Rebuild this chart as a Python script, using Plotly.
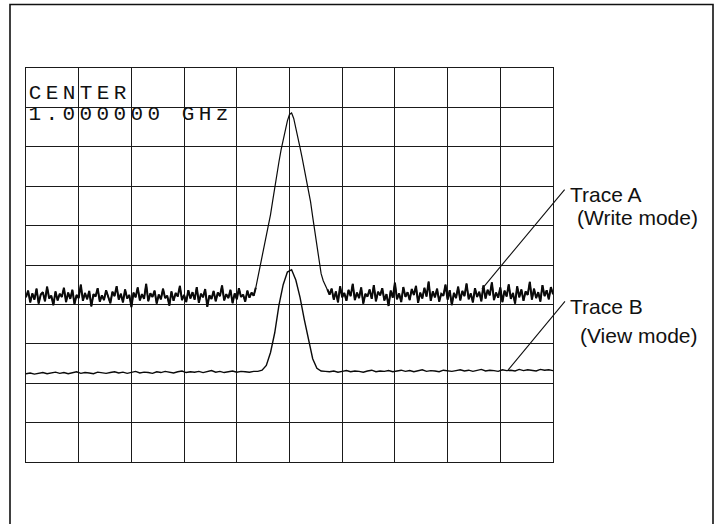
import numpy as np
import plotly.graph_objects as go

# ---- Data (grid divisions: x 0..10 across the span, y 0..10 bottom to top) ----
# Trace A (Write mode): 251 sweep points
trace_a_left_noise = [
    4.18, 4.35, 4.05, 4.28, 4.12, 4.40, 4.02, 4.25, 4.31, 4.08, 4.45, 4.15, 4.22, 3.98, 4.33, 4.10, 4.27, 4.19, 4.42, 4.06,
    4.30, 4.14, 4.37, 4.01, 4.24, 4.16, 4.50, 4.09, 4.29, 4.13, 4.34, 3.95, 4.26, 4.20, 4.41, 4.07, 4.23, 4.11, 4.36, 4.17,
    4.03, 4.32, 4.21, 4.46, 4.12, 4.27, 4.05, 4.38, 4.15, 4.24, 3.93, 4.30, 4.18, 4.43, 4.10, 4.26, 4.14, 4.52, 4.08, 4.28,
    4.19, 4.35, 4.02, 4.25, 4.13, 4.40, 4.16, 4.22, 3.97, 4.33, 4.09, 4.29, 4.20, 4.47, 4.11, 4.24, 4.06, 4.36, 4.15, 4.31,
    4.12, 4.44, 4.04, 4.27, 4.18, 4.39, 3.94, 4.23, 4.14, 4.34, 4.08, 4.30, 4.21, 4.48, 4.10, 4.26, 4.16, 4.37, 4.03, 4.28,
    4.13, 4.41, 4.19, 4.25, 4.07, 4.35, 4.17, 4.30, 4.22,
]
trace_a_peak = [
    4.42, 4.68, 4.95, 5.20, 5.45, 5.70, 5.95, 6.28, 6.62, 6.98, 7.30, 7.62, 7.92, 8.20, 8.45, 8.66, 8.82, 8.86,
    8.72, 8.50, 8.25, 7.98, 7.72, 7.45, 7.20, 6.92, 6.60, 6.22, 5.85, 5.45, 5.05, 4.78, 4.60, 4.48, 4.38,
]
trace_a_right_noise = [
    4.25, 4.40, 4.12, 4.33, 4.05, 4.46, 4.18, 4.29, 4.09, 4.37, 4.21, 4.52, 4.11, 4.30, 4.16, 4.43, 4.02, 4.27, 4.20, 4.38,
    4.14, 4.49, 4.08, 4.32, 4.23, 4.41, 4.10, 4.26, 3.96, 4.35, 4.17, 4.55, 4.13, 4.28, 4.06, 4.44, 4.19, 4.31, 4.11, 4.39,
    4.24, 4.47, 4.04, 4.30, 4.15, 4.42, 4.20, 4.58, 4.09, 4.33, 4.18, 4.40, 4.07, 4.27, 4.22, 4.50, 4.12, 4.36, 3.98, 4.29,
    4.16, 4.45, 4.10, 4.34, 4.21, 4.53, 4.13, 4.28, 4.05, 4.41, 4.19, 4.32, 4.08, 4.48, 4.15, 4.37, 4.23, 4.56, 4.11, 4.30,
    4.17, 4.43, 4.06, 4.35, 4.20, 4.51, 4.14, 4.29, 4.02, 4.46, 4.18, 4.38, 4.09, 4.33, 4.24, 4.57, 4.12, 4.40, 4.16, 4.31,
    4.07, 4.49, 4.21, 4.36, 4.13, 4.44, 4.26,
]
trace_a = trace_a_left_noise + trace_a_peak + trace_a_right_noise

# Trace B (View mode): 126 sweep points
trace_b_left = [
    2.24, 2.26, 2.23, 2.25, 2.27, 2.24, 2.26, 2.28, 2.25, 2.27, 2.24, 2.26, 2.29, 2.25, 2.27, 2.26, 2.24, 2.28, 2.26, 2.25,
    2.27, 2.29, 2.26, 2.28, 2.25, 2.27, 2.30, 2.26, 2.28, 2.27, 2.25, 2.29, 2.27, 2.30, 2.28, 2.26, 2.29, 2.31, 2.27, 2.29,
    2.28, 2.30, 2.27, 2.29, 2.32, 2.28, 2.30, 2.27, 2.29, 2.31, 2.28, 2.30, 2.29, 2.28, 2.30,
]
trace_b_peak = [
    2.30, 2.33, 2.45, 2.78, 3.28, 3.98, 4.50, 4.82, 4.88, 4.62, 4.18, 3.62, 3.10, 2.62, 2.38, 2.31,
]
trace_b_right = [
    2.30, 2.29, 2.31, 2.28, 2.30, 2.32, 2.29, 2.31, 2.30, 2.28, 2.31, 2.33, 2.29, 2.31, 2.30, 2.32, 2.29, 2.31, 2.33, 2.30,
    2.32, 2.29, 2.31, 2.34, 2.30, 2.32, 2.31, 2.29, 2.33, 2.31, 2.30, 2.32, 2.34, 2.31, 2.33, 2.30, 2.32, 2.35, 2.31, 2.33,
    2.32, 2.30, 2.34, 2.32, 2.33, 2.31, 2.35, 2.32, 2.34, 2.33, 2.31, 2.35, 2.33, 2.34, 2.32,
]
trace_b = trace_b_left + trace_b_peak + trace_b_right

SPAN_START, SPAN_STOP = 0.0, 10.0
x_a = np.linspace(SPAN_START, SPAN_STOP, len(trace_a))
x_b = np.linspace(SPAN_START, SPAN_STOP, len(trace_b))

center_label = ["CENTER", "1.000000 GHz"]
trace_labels = [("Trace A", "(Write mode)"), ("Trace B", "(View mode)")]

# ---- Figure ----
W, H = 718, 524
fig = go.Figure()
# full trace A, thin
fig.add_trace(go.Scatter(x=x_a, y=trace_a, mode="lines",
                         line=dict(color="#0a0a0a", width=1.2), hoverinfo="skip"))
# the noisy (write-mode) floor segments of trace A drawn heavier, as on the scan
nl, nr = len(trace_a_left_noise), len(trace_a_right_noise)
ya_noise = np.array(trace_a, dtype=float)
ya_noise[nl + 1:len(trace_a) - nr - 1] = np.nan
fig.add_trace(go.Scatter(x=x_a, y=ya_noise, mode="lines", connectgaps=False,
                         line=dict(color="#0a0a0a", width=2.0), hoverinfo="skip"))
fig.add_trace(go.Scatter(x=x_b, y=trace_b, mode="lines",
                         line=dict(color="#0a0a0a", width=1.4), hoverinfo="skip"))

def px_x(p):
    return p / W

def px_y(p):
    return 1 - p / H

axis_common = dict(range=[0, 10], dtick=1, tick0=0, showticklabels=False, ticks="",
                   showgrid=True, gridcolor="#1a1a1a", gridwidth=1, zeroline=False,
                   showline=True, linecolor="#1a1a1a", linewidth=1, mirror=True,
                   fixedrange=True)
fig.update_layout(
    width=W, height=H,
    margin=dict(l=0, r=0, t=0, b=0, autoexpand=False),
    paper_bgcolor="white", plot_bgcolor="white",
    showlegend=False,
    xaxis=dict(domain=[px_x(26), px_x(553)], **axis_common),
    yaxis=dict(domain=[px_y(462), px_y(68)], **axis_common),
)

# outer frame (bottom edge runs off the page)
fig.add_shape(type="rect", xref="paper", yref="paper",
              x0=px_x(10), x1=px_x(713), y0=-0.1, y1=px_y(4.5),
              line=dict(color="#111111", width=1.6))

# CENTER text (letter-spaced via post script; text is centred in its box,
# so the box is shifted right by half the added spacing)
MONO_SIZE, LETTER_SP = 21, 4.4
mono = dict(family="Liberation Mono, Courier New, monospace", size=MONO_SIZE, color="#111111")
for txt, yc in zip(center_label, (93, 115)):
    fig.add_annotation(xref="paper", yref="paper",
                       x=px_x(27 + len(txt) * LETTER_SP / 2), y=px_y(yc),
                       xanchor="left", yanchor="middle", showarrow=False,
                       text=txt, font=mono)

# Leader lines to the traces
fig.add_annotation(xref="x", yref="y", x=8.65, y=4.39, ax=84, ay=-101,
                   text="", showarrow=True, arrowhead=0, arrowwidth=1.1,
                   arrowcolor="#111111")
fig.add_annotation(xref="x", yref="y", x=9.15, y=2.34, ax=58, ay=-70,
                   text="", showarrow=True, arrowhead=0, arrowwidth=1.1,
                   arrowcolor="#111111")

sans = dict(family="Liberation Sans, Arial, sans-serif", size=21, color="#111111")
label_pos = [((568, 194), (575, 217)), ((568, 306), (578, 335))]
for (t1, t2), ((x1, y1), (x2, y2)) in zip(trace_labels, label_pos):
    fig.add_annotation(xref="paper", yref="paper", x=px_x(x1), y=px_y(y1),
                       xanchor="left", yanchor="middle", showarrow=False,
                       text=t1, font=sans)
    fig.add_annotation(xref="paper", yref="paper", x=px_x(x2), y=px_y(y2),
                       xanchor="left", yanchor="middle", showarrow=False,
                       text=t2, font=sans)

post = """
document.body.style.margin = '0';
document.body.style.overflow = 'hidden';
document.querySelectorAll('.annotation-text').forEach(function (e) {
  if (e.textContent === 'CENTER' || e.textContent === '1.000000 GHz') {
    e.style.letterSpacing = '%spx';
  }
});
""" % LETTER_SP
fig.write_html("out.html", post_script=post, config={"displayModeBar": False})
